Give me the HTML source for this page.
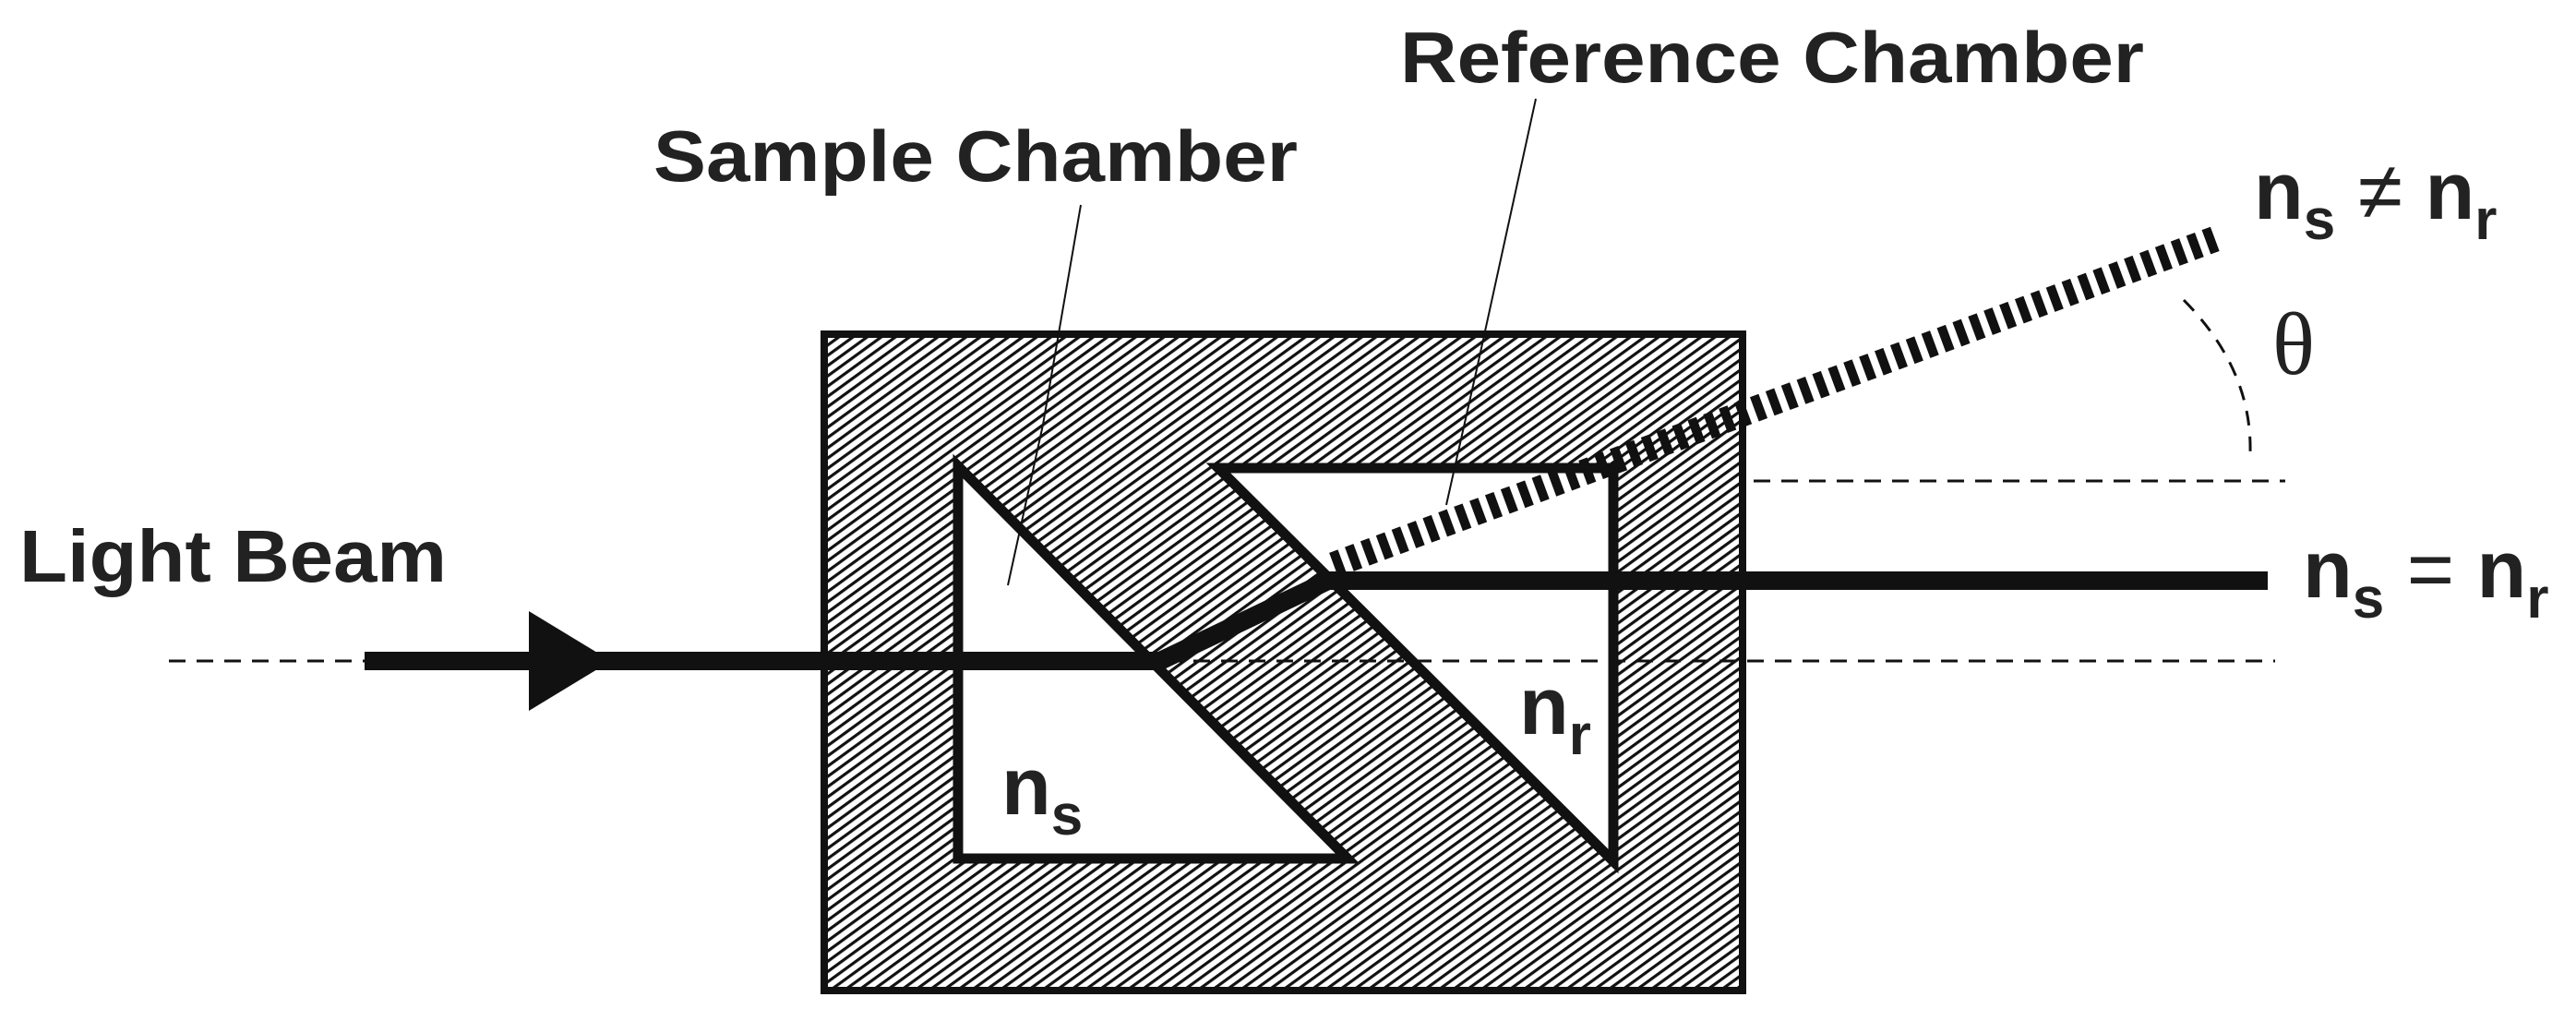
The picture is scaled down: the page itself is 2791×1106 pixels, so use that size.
<!DOCTYPE html>
<html><head><style>html,body{margin:0;padding:0;background:#fff}</style></head><body>
<svg width="2791" height="1101" viewBox="0 0 2791 1101" xmlns="http://www.w3.org/2000/svg">
<defs>
<pattern id="h" width="9" height="9" patternUnits="userSpaceOnUse" patternTransform="rotate(-36)">
<rect width="9" height="9" fill="#fff"/>
<rect x="0" y="0" width="9" height="3.2" fill="#111"/>
</pattern>
</defs>
<rect x="893" y="362" width="995" height="711" fill="url(#h)" stroke="#111" stroke-width="8"/>
<polygon points="1038,505 1038,930 1460,930" fill="#fff" stroke="#111" stroke-width="11" stroke-linejoin="miter"/>
<polygon points="1320,507 1748,507 1748,933" fill="#fff" stroke="#111" stroke-width="11" stroke-linejoin="miter"/>
<line x1="183" y1="716" x2="2465" y2="716" stroke="#111" stroke-width="3" stroke-dasharray="18,12"/>
<line x1="1900" y1="521" x2="2476" y2="521" stroke="#111" stroke-width="3" stroke-dasharray="18,12"/>
<polyline points="1171,222 1130,460 1092,634" fill="none" stroke="#111" stroke-width="2"/>
<polyline points="1664,107 1600,400 1567,547" fill="none" stroke="#111" stroke-width="2"/>
<polyline points="395,716 1257,716 1439,629 2457,629" fill="none" stroke="#111" stroke-width="20" stroke-linejoin="miter"/>
<polygon points="573,662 662,716 573,770" fill="#111"/>
<line x1="1445" y1="612" x2="2402" y2="258" stroke="#111" stroke-width="28" stroke-dasharray="10,8"/>
<path d="M2366,325 Q2440,400 2438,490" fill="none" stroke="#111" stroke-width="3" stroke-dasharray="16,12"/>
<g font-family="Liberation Sans, sans-serif" font-weight="bold" fill="#222">
<text x="21" y="630" font-size="80" textLength="463" lengthAdjust="spacingAndGlyphs">Light Beam</text>
<text x="708" y="196" font-size="78" textLength="698" lengthAdjust="spacingAndGlyphs">Sample Chamber</text>
<text x="1517" y="89" font-size="78" textLength="806" lengthAdjust="spacingAndGlyphs">Reference Chamber</text>
<text x="1085" y="882" font-size="88">n<tspan font-size="62" dy="22">s</tspan></text>
<text x="1646" y="795" font-size="88">n<tspan font-size="62" dy="22">r</tspan></text>
<text x="2442" y="237" font-size="88">n<tspan font-size="62" dy="22">s</tspan><tspan dy="-22" font-weight="normal"> ≠ </tspan>n<tspan font-size="62" dy="22">r</tspan></text>
<text x="2495" y="647" font-size="88">n<tspan font-size="62" dy="22">s</tspan><tspan dy="-22" font-weight="normal"> = </tspan>n<tspan font-size="62" dy="22">r</tspan></text>
</g>
<text x="2462" y="405" font-family="Liberation Serif, serif" font-size="96" fill="#222">θ</text>
</svg>
</body></html>
